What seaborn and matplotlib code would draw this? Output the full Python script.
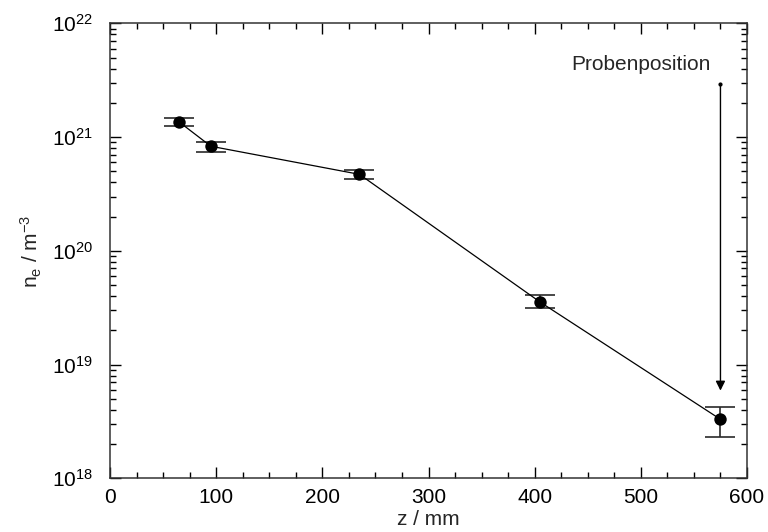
import numpy as np
import pandas as pd
import matplotlib
matplotlib.use("Agg")
import matplotlib.pyplot as plt
import matplotlib.ticker as mticker
import seaborn as sns

# ---- data ----
z_mm = [65, 95, 235, 405, 575]
n_e = [1.36e21, 8.3e20, 4.7e20, 3.55e19, 3.3e18]
n_e_upper = [1.47e21, 9.1e20, 5.1e20, 4.1e19, 4.27e18]
n_e_lower = [1.25e21, 7.4e20, 4.3e20, 3.14e19, 2.3e18]
x_ticks = [0, 100, 200, 300, 400, 500, 600]
y_ticks = [1e18, 1e19, 1e20, 1e21, 1e22]
arrow_x = 575
arrow_from = 2.9e21
arrow_to = 5.9e18
label_text = "Probenposition"
label_x = 500
label_y = 4.3e21

df = pd.DataFrame({"z": z_mm, "ne": n_e})

sns.set_style("ticks")
plt.rcParams["font.family"] = ["Liberation Sans", "DejaVu Sans"]
plt.rcParams["mathtext.fontset"] = "custom"
plt.rcParams["mathtext.rm"] = "Liberation Sans"
plt.rcParams["mathtext.it"] = "Liberation Sans"
plt.rcParams["mathtext.default"] = "regular"

fig = plt.figure(figsize=(7.68, 5.32), dpi=100)
ax = fig.add_axes([110 / 768, 1 - 478.3 / 532, (747 - 110) / 768, (478.3 - 23.3) / 532])

yerr = np.array([np.array(n_e) - np.array(n_e_lower), np.array(n_e_upper) - np.array(n_e)])
ax.errorbar(z_mm, n_e, yerr=yerr, fmt="none", ecolor="#2a2a2a", elinewidth=1.2,
            capsize=10.5, capthick=1.2, zorder=2)
sns.lineplot(data=df, x="z", y="ne", ax=ax, color="black", linewidth=0.9, zorder=3)
sns.scatterplot(data=df, x="z", y="ne", ax=ax, color="black", s=80, edgecolor="black",
                linewidth=0, zorder=4)

ax.set_yscale("log")
ax.set_xlim(0, 600)
ax.set_ylim(1e18, 1e22)
ax.set_xticks(x_ticks)
ax.set_yticks(y_ticks)
ax.xaxis.set_minor_locator(mticker.MultipleLocator(25))
ax.yaxis.set_minor_locator(mticker.LogLocator(base=10, subs=np.arange(2, 10)))
ax.yaxis.set_minor_formatter(mticker.NullFormatter())
ax.yaxis.set_major_formatter(mticker.FuncFormatter(
    lambda v, p: r"$10^{%d}$" % int(round(np.log10(v)))))

ax.tick_params(which="both", direction="in", top=True, right=True, width=1, colors="black")
ax.tick_params(which="major", length=8, labelsize=15, pad=7)
ax.tick_params(which="minor", length=4)
ax.tick_params(axis="y", which="major", pad=12)
for s in ax.spines.values():
    s.set_linewidth(1.1)
    s.set_color("#333333")

ax.set_xlabel("z / mm", fontsize=15, labelpad=2)
ax.set_ylabel(r"n$_e$ / m$^{-3}$", fontsize=15, labelpad=6)

ax.annotate("", xy=(arrow_x, arrow_to), xytext=(arrow_x, arrow_from),
            arrowprops=dict(arrowstyle="-|>", color="black", lw=1.0,
                            mutation_scale=14, shrinkA=0, shrinkB=0))
ax.plot([arrow_x], [arrow_from], marker="o", markersize=2, color="black")
ax.text(label_x, label_y, label_text, fontsize=15, ha="center", va="center")

fig.savefig("out.png", dpi=100)
